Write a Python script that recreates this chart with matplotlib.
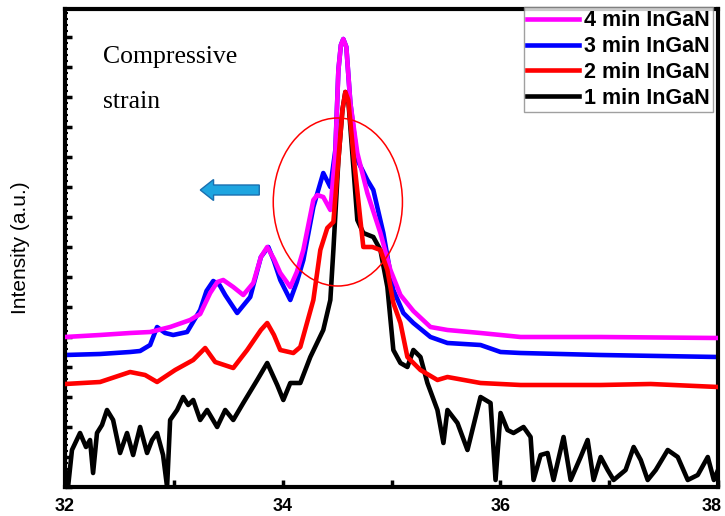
import numpy as np
import matplotlib
matplotlib.use("Agg")
import matplotlib.pyplot as plt
from matplotlib.patches import Ellipse, FancyArrow
from matplotlib.ticker import MultipleLocator, FuncFormatter

# 2theta (deg) and intensity (a.u.)
x4 = [32.00, 32.322, 32.598, 32.782, 32.966, 33.15, 33.242, 33.334, 33.40, 33.454, 33.546, 33.638,
      33.730, 33.80, 33.858, 33.92, 33.978, 34.07, 34.13, 34.19, 34.282, 34.318, 34.373, 34.438,
      34.484, 34.512, 34.535, 34.557, 34.585, 34.622, 34.686, 34.778, 34.898, 34.990, 35.082,
      35.201, 35.358, 35.514, 35.818, 36.186, 36.922, 38.0]
y4 = [150, 152, 154, 155, 160, 167, 173, 194, 205, 207, 200, 192,
      204, 230, 240, 228, 214, 200, 215, 237, 287, 292, 290, 277,
      334, 417, 442, 448, 440, 384, 334, 294, 254, 217, 192,
      176, 160, 157, 154, 150, 150, 149]

x3 = [32.00, 32.322, 32.598, 32.690, 32.782, 32.846, 32.92, 32.994, 33.122, 33.242, 33.30,
      33.362, 33.42, 33.472, 33.582, 33.702, 33.80, 33.868, 33.92, 33.978, 34.07, 34.13,
      34.19, 34.282, 34.373, 34.438, 34.484, 34.512, 34.535, 34.557, 34.585, 34.622, 34.686,
      34.778, 34.833, 34.925, 35.017, 35.109, 35.201, 35.358, 35.514, 35.818, 36.002, 36.186,
      36.922, 38.0]
y3 = [132, 133, 135, 136, 142, 160, 154, 152, 155, 177, 196,
      206, 202, 192, 174, 190, 230, 240, 226, 207, 187, 205,
      227, 280, 314, 300, 337, 417, 442, 448, 440, 384, 327,
      307, 297, 254, 197, 174, 164, 150, 144, 142, 135, 134,
      132, 130]

x2 = [32.00, 32.322, 32.598, 32.736, 32.846, 33.012, 33.178, 33.288, 33.380, 33.546, 33.674,
      33.80, 33.858, 33.92, 33.978, 34.098, 34.162, 34.282, 34.346, 34.410, 34.466, 34.512,
      34.549, 34.576, 34.603, 34.649, 34.714, 34.741, 34.824, 34.898, 34.962, 35.017, 35.082,
      35.146, 35.266, 35.422, 35.514, 35.818, 36.186, 36.922, 37.382, 38.0]
y2 = [103, 105, 115, 112, 105, 117, 127, 139, 125, 119, 137,
      157, 164, 152, 137, 134, 140, 187, 237, 259, 265, 327,
      377, 395, 387, 334, 267, 240, 240, 237, 217, 184, 164,
      130, 117, 107, 110, 104, 102, 102, 103, 100]

x1 = [32.00, 32.028, 32.064, 32.138, 32.193, 32.23, 32.258, 32.294, 32.340, 32.386, 32.442,
      32.506, 32.570, 32.626, 32.690, 32.754, 32.800, 32.846, 32.901, 32.938, 32.966, 33.030,
      33.086, 33.132, 33.178, 33.242, 33.306, 33.398, 33.472, 33.546, 33.638, 33.766, 33.858,
      33.950, 34.006, 34.07, 34.162, 34.254, 34.373, 34.438, 34.466, 34.512, 34.549, 34.576,
      34.603, 34.640, 34.686, 34.741, 34.833, 34.898, 34.962, 35.017, 35.082, 35.146, 35.201,
      35.266, 35.330, 35.422, 35.477, 35.514, 35.606, 35.698, 35.818, 35.910, 35.956, 36.002,
      36.066, 36.121, 36.213, 36.278, 36.305, 36.370, 36.434, 36.489, 36.581, 36.646, 36.738,
      36.802, 36.857, 36.922, 36.986, 37.041, 37.151, 37.225, 37.290, 37.354, 37.428, 37.538,
      37.630, 37.722, 37.814, 37.906, 37.962, 38.0]
y1 = [17, 0, 37, 54, 40, 47, 14, 54, 62, 77, 67,
      34, 54, 32, 60, 34, 47, 54, 32, 0, 67, 77,
      90, 82, 87, 67, 77, 60, 77, 67, 84, 107, 124,
      102, 87, 104, 104, 130, 157, 187, 237, 327, 377, 395,
      387, 334, 267, 254, 250, 237, 200, 137, 124, 120, 137,
      130, 104, 77, 44, 77, 64, 37, 90, 84, 7, 74,
      57, 54, 60, 50, 7, 32, 34, 7, 50, 7, 30,
      47, 7, 30, 17, 7, 17, 40, 27, 7, 17, 37,
      30, 7, 12, 30, 7, 17]

labels = ["4 min InGaN", "3 min InGaN", "2 min InGaN", "1 min InGaN"]
colors = ["#FF00FF", "#0000FF", "#FF0000", "#000000"]
xticks = [32, 33, 34, 35, 36, 37, 38]
xticklabels = ["32", "", "34", "", "36", "", ""]

fig = plt.figure(figsize=(7.25, 5.16), dpi=100)
ax = fig.add_axes([65 / 725, 29 / 516, 653 / 725, 478 / 516])

lw = 3.3
l1, = ax.plot(x1, y1, color=colors[3], lw=lw, zorder=1, solid_joinstyle="round")
l3, = ax.plot(x3, y3, color=colors[1], lw=lw, zorder=2, solid_joinstyle="round")
l4, = ax.plot(x4, y4, color=colors[0], lw=lw, zorder=3, solid_joinstyle="round")
l2, = ax.plot(x2, y2, color=colors[2], lw=lw, zorder=4, solid_joinstyle="round")

ax.set_xlim(32, 38)
ax.set_ylim(0, 478)

ax.add_patch(Ellipse((34.507, 285), 1.187, 168, fill=False, edgecolor="red", lw=1.1, zorder=5))
ax.add_patch(FancyArrow(33.785, 297, -0.42, 0, width=10, head_width=21, head_length=0.122,
                        length_includes_head=False, facecolor="#1EA5E0", edgecolor="#1A6FB0",
                        lw=1.0, zorder=5))

ax.text(32.35, 424, "Compressive", family="Liberation Serif", fontsize=18.5, va="baseline")
ax.text(32.35, 379, "strain", family="Liberation Serif", fontsize=18.5, va="baseline")

for s in ax.spines.values():
    s.set_linewidth(3.0)

ax.set_xticks(xticks)
ax.set_xticklabels(xticklabels, fontweight="bold", family="Liberation Sans")
# last label sits flush with the right edge, as in the original
ax.text(38.03, -0.024, "38", transform=ax.get_xaxis_transform(), ha="right", va="top",
        fontsize=13, fontweight="bold", family="Liberation Sans")
ax.yaxis.set_major_locator(MultipleLocator(30))
ax.yaxis.set_minor_locator(MultipleLocator(6))
ax.yaxis.set_major_formatter(FuncFormatter(lambda v, p: ""))
ax.tick_params(axis="x", direction="in", length=5, width=2.5, pad=8, labelsize=13)
ax.tick_params(axis="y", which="major", direction="in", length=5, width=2.5)
ax.tick_params(axis="y", which="minor", direction="in", length=2.5, width=1.5)

ax.set_ylabel("Intensity (a.u.)", family="Liberation Sans", fontsize=15, labelpad=22)

leg = ax.legend([l4, l3, l2, l1], labels, loc="upper right", bbox_to_anchor=(0.9925, 1.004),
                prop={"family": "Liberation Sans", "weight": "bold", "size": 15.5},
                handlelength=2.4, handletextpad=0.25, labelspacing=0.22, borderpad=0.15,
                borderaxespad=0, frameon=True, fancybox=False)
leg.get_frame().set_edgecolor("#888888")
leg.get_frame().set_linewidth(1.0)
leg.set_zorder(10)

plt.savefig("out.png", dpi=100)
